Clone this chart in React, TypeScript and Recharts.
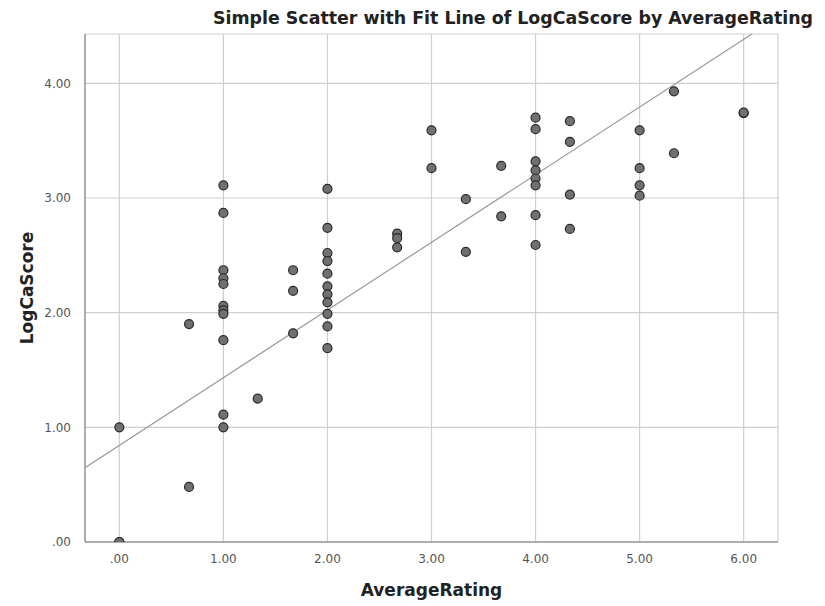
import React from "react";
import {
  ScatterChart,
  Scatter,
  XAxis,
  YAxis,
  CartesianGrid,
  ReferenceLine,
} from "recharts";

// AverageRating values (x) and LogCaScore values (y)
const ratingX: number[] = [
  0, 0, 0,
  0.67, 0.67,
  1, 1, 1, 1, 1, 1, 1, 1, 1, 1, 1,
  1.33,
  1.67, 1.67, 1.67,
  2, 2, 2, 2, 2, 2, 2, 2, 2, 2, 2,
  2.67, 2.67, 2.67,
  3, 3,
  3.33, 3.33,
  3.67, 3.67,
  4, 4, 4, 4, 4, 4, 4, 4,
  4.33, 4.33, 4.33, 4.33,
  5, 5, 5, 5,
  5.33, 5.33,
  6, 6,
];
const scoreY: number[] = [
  1.0, 0, 0,
  1.9, 0.48,
  3.11, 2.87, 2.37, 2.3, 2.25, 2.06, 2.02, 1.99, 1.76, 1.11, 1.0,
  1.25,
  2.37, 2.19, 1.82,
  3.08, 2.74, 2.52, 2.45, 2.34, 2.23, 2.16, 2.09, 1.99, 1.88, 1.69,
  2.69, 2.65, 2.57,
  3.59, 3.26,
  2.99, 2.53,
  3.28, 2.84,
  3.7, 3.6, 3.32, 3.24, 3.17, 3.11, 2.85, 2.59,
  3.67, 3.49, 3.03, 2.73,
  3.59, 3.26, 3.11, 3.02,
  3.93, 3.39,
  3.74, 3.745,
];

// Fit line (intercept, slope)
const fitIntercept = 0.843;
const fitSlope = 0.59;

const xTicks: number[] = [0, 1, 2, 3, 4, 5, 6];
const yTicks: number[] = [0, 1, 2, 3, 4];
const xDomain: [number, number] = [-0.33, 6.33];
const yDomain: [number, number] = [0, 4.43];

const points = ratingX.map((x, i) => ({ x, y: scoreY[i] }));

const fmt = (v: number) => {
  const s = v.toFixed(2);
  return s.startsWith("0") ? s.slice(1) : s;
};

const FONT = "'DejaVu Sans', Verdana, sans-serif";

export default function App() {
  return (
    <div style={{ position: "absolute", left: 0, top: 0, width: 825, height: 606, background: "#fff" }}>
      <ScatterChart
        width={825}
        height={606}
        margin={{ top: 34, right: 47, left: 0, bottom: 0 }}
      >
        <CartesianGrid stroke="#cfcfcf" strokeWidth={1.2} />
        <XAxis
          type="number"
          dataKey="x"
          domain={xDomain}
          ticks={xTicks}
          tickFormatter={fmt}
          allowDataOverflow
          height={64}
          tickLine={false}
          axisLine={{ stroke: "#9a9a9a", strokeWidth: 1.5 }}
          tick={{ fill: "#555", fontSize: 12, fontFamily: FONT }}
          tickMargin={6}
          label={{
            value: "AverageRating",
            position: "insideBottom",
            offset: 10,
            style: { fontSize: 17, fontWeight: "bold", fill: "#222", fontFamily: FONT },
          }}
        />
        <YAxis
          type="number"
          dataKey="y"
          domain={yDomain}
          ticks={yTicks}
          tickFormatter={fmt}
          allowDataOverflow
          width={85}
          tickLine={false}
          axisLine={{ stroke: "#9a9a9a", strokeWidth: 1.5 }}
          tick={{ fill: "#555", fontSize: 12, fontFamily: FONT }}
          tickMargin={8}
          label={{
            value: "LogCaScore",
            angle: -90,
            position: "insideLeft",
            offset: 27,
            style: { fontSize: 17, fontWeight: "bold", fill: "#222", fontFamily: FONT, textAnchor: "middle" },
          }}
        />
        <ReferenceLine
          segment={[
            { x: xDomain[0], y: fitIntercept + fitSlope * xDomain[0] },
            { x: xDomain[1], y: fitIntercept + fitSlope * xDomain[1] },
          ]}
          stroke="#999"
          strokeWidth={1.2}
          ifOverflow="hidden"
        />
        <Scatter
          data={points}
          fill="#707070"
          stroke="#2a2a2a"
          strokeWidth={1.2}
          shape={(p: any) => (
            <circle cx={p.cx} cy={p.cy} r={4.5} fill="#707070" stroke="#2a2a2a" strokeWidth={1.2} />
          )}
          isAnimationActive={false}
        />
        <text
          x={513}
          y={24}
          textAnchor="middle"
          style={{ fontSize: 17.4, fontWeight: "bold", fill: "#222", fontFamily: FONT }}
        >
          Simple Scatter with Fit Line of LogCaScore by AverageRating
        </text>
      </ScatterChart>
    </div>
  );
}
